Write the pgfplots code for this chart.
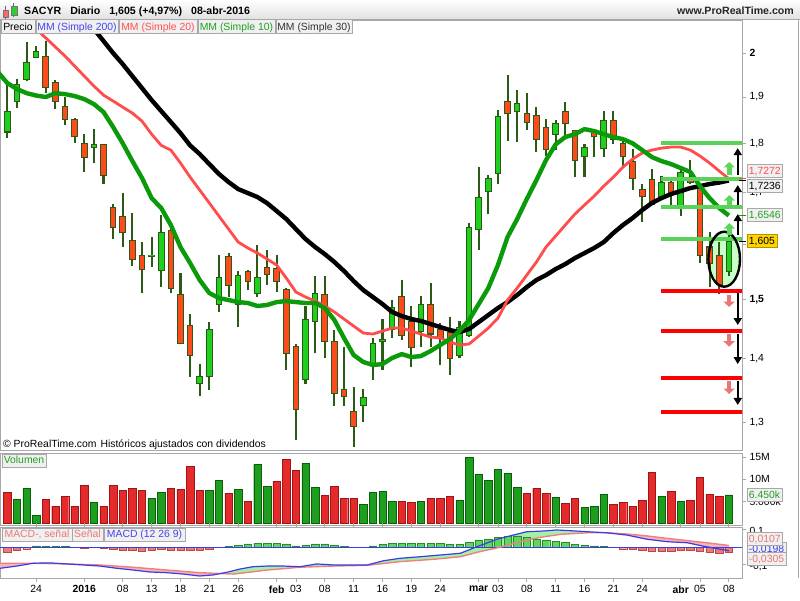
\documentclass[border=0pt]{standalone}
\usepackage{fontspec}
\setmainfont{Liberation Sans}
\usepackage{pgfplots}
\pgfplotsset{compat=1.18}
\usepackage{pgfplotstable}
\usetikzlibrary{arrows.meta}

\definecolor{frame}{HTML}{A8A8A8}
\definecolor{wick}{HTML}{2C5A16}
\definecolor{candleG}{HTML}{1CD01C}
\definecolor{candleR}{HTML}{FF4A1C}
\definecolor{maG}{HTML}{0A9A0A}
\definecolor{maR}{HTML}{FF4D4D}
\definecolor{lvlG}{HTML}{5AD25A}
\definecolor{lvlR}{HTML}{FF0000}
\definecolor{volG}{HTML}{1E9E1E}
\definecolor{volGd}{HTML}{0B5F0B}
\definecolor{volR}{HTML}{E42A2A}
\definecolor{volRd}{HTML}{9E1515}
\definecolor{hG}{HTML}{5CD85C}
\definecolor{hGd}{HTML}{2A8A2A}
\definecolor{hR}{HTML}{EC7C7C}
\definecolor{hRd}{HTML}{B84848}
\definecolor{macdB}{HTML}{3C3CE6}
\definecolor{sigP}{HTML}{F08080}
\definecolor{fillG}{HTML}{A6EFA6}
\definecolor{fillP}{HTML}{F6B4B4}
\definecolor{boxbg}{HTML}{F0F0F0}
\definecolor{txtG}{HTML}{20A020}
\definecolor{txtB}{HTML}{4444EE}
\definecolor{txtP}{HTML}{E87878}
\definecolor{txtR}{HTML}{FF5050}
\definecolor{arrG}{HTML}{5DD55D}
\definecolor{arrR}{HTML}{E87878}
\definecolor{yel}{HTML}{FFD400}

\newcommand\ff{\fontsize{10.4pt}{12pt}\selectfont}

\pgfplotsset{
  panel/.style={scale only axis, width=742pt, xmin=-0.76, xmax=76.37,
    axis line style={draw=frame, line width=0.8pt},
    tick style={draw=frame, line width=0.8pt},
    tick align=outside, major tick length=4pt,
    ytick pos=right, yticklabel pos=right,
    tick label style={font=\ff}},
}

\begin{document}

% green candles: i open high low close
\pgfplotstableread{
i o h l c
0 1.824 1.926 1.811 1.869
1 1.890 1.940 1.876 1.927
2 1.939 2.027 1.935 1.978
3 1.989 2.016 1.988 2.003
9 1.791 1.830 1.760 1.797
15 1.578 1.614 1.559 1.580
16 1.551 1.655 1.523 1.622
20 1.360 1.391 1.341 1.371
21 1.371 1.462 1.350 1.449
22 1.491 1.580 1.479 1.539
24 1.491 1.551 1.453 1.542
26 1.510 1.599 1.505 1.539
31 1.367 1.489 1.360 1.466
32 1.462 1.541 1.409 1.510
37 1.325 1.351 1.301 1.338
38 1.390 1.434 1.366 1.425
39 1.428 1.467 1.382 1.432
40 1.449 1.500 1.434 1.486
43 1.445 1.506 1.420 1.492
47 1.406 1.463 1.401 1.452
48 1.439 1.641 1.436 1.632
49 1.628 1.752 1.589 1.690
50 1.701 1.735 1.657 1.728
51 1.738 1.872 1.717 1.858
53 1.869 1.916 1.804 1.885
57 1.819 1.850 1.786 1.843
60 1.772 1.799 1.730 1.792
62 1.790 1.869 1.772 1.848
68 1.691 1.733 1.691 1.719
70 1.673 1.748 1.654 1.739
75 1.550 1.621 1.542 1.605
}\upc

% red candles
\pgfplotstableread{
i o h l c
4 1.993 2.028 1.910 1.921
5 1.933 1.938 1.874 1.890
6 1.880 1.901 1.839 1.851
7 1.850 1.855 1.801 1.814
8 1.799 1.819 1.741 1.771
10 1.797 1.799 1.716 1.733
11 1.670 1.677 1.609 1.632
12 1.652 1.698 1.595 1.622
13 1.607 1.659 1.560 1.571
14 1.580 1.605 1.511 1.553
17 1.626 1.630 1.511 1.520
18 1.509 1.547 1.424 1.425
19 1.455 1.475 1.371 1.406
23 1.577 1.583 1.504 1.525
25 1.550 1.553 1.517 1.532
27 1.557 1.589 1.526 1.544
28 1.556 1.580 1.514 1.532
29 1.517 1.520 1.382 1.409
30 1.420 1.425 1.274 1.320
33 1.509 1.541 1.401 1.428
34 1.429 1.448 1.325 1.345
35 1.351 1.419 1.325 1.340
36 1.316 1.355 1.263 1.294
41 1.505 1.535 1.431 1.439
42 1.462 1.488 1.386 1.419
44 1.491 1.530 1.420 1.441
45 1.449 1.459 1.390 1.435
46 1.443 1.469 1.374 1.401
52 1.891 1.949 1.806 1.863
54 1.864 1.910 1.828 1.845
55 1.860 1.878 1.783 1.809
56 1.834 1.851 1.774 1.788
58 1.869 1.890 1.818 1.843
59 1.827 1.828 1.731 1.764
61 1.822 1.830 1.771 1.814
63 1.848 1.869 1.799 1.809
64 1.799 1.807 1.752 1.772
65 1.762 1.788 1.705 1.728
66 1.706 1.717 1.643 1.692
67 1.726 1.748 1.677 1.677
69 1.719 1.725 1.675 1.696
71 1.724 1.765 1.716 1.719
72 1.708 1.710 1.566 1.580
73 1.595 1.624 1.522 1.565
74 1.580 1.605 1.510 1.526
}\dnc

% moving averages 10, 20, 30
\pgfplotstableread{
i m10 m20 m30
-1 1.9570 2.150 2.34
0 1.9313 2.1251 2.31
1 1.9178 2.1029 2.28
2 1.9088 2.0785 2.25
3 1.9033 2.0568 2.22
4 1.9000 2.0354 2.19
5 1.9088 2.0141 2.165
6 1.9066 1.9930 2.137
7 1.9022 1.9699 2.1103
8 1.8955 1.9471 2.0834
9 1.8845 1.9245 2.0568
10 1.8670 1.9044 2.0282
11 1.8346 1.8911 2.0000
12 1.8000 1.8779 1.9745
13 1.7633 1.8648 1.9471
14 1.7286 1.8474 1.9200
15 1.6887 1.8196 1.8933
16 1.6691 1.7958 1.8691
17 1.6364 1.7860 1.8453
18 1.5949 1.7592 1.8217
19 1.5653 1.7306 1.7958
20 1.5346 1.7045 1.7777
21 1.5115 1.6789 1.7571
22 1.5027 1.6536 1.7367
23 1.4992 1.6287 1.7205
24 1.4957 1.6042 1.7065
25 1.4940 1.5930 1.6986
26 1.4888 1.5837 1.6906
27 1.4905 1.5727 1.6788
28 1.4957 1.5617 1.6633
29 1.4975 1.5382 1.6478
30 1.4957 1.5133 1.6287
31 1.4940 1.5045 1.6098
32 1.4940 1.4975 1.5949
33 1.4853 1.4888 1.5819
34 1.4646 1.4784 1.5672
35 1.4342 1.4663 1.5508
36 1.4060 1.4544 1.5328
37 1.3946 1.4426 1.5168
38 1.3897 1.4409 1.5045
39 1.3913 1.4459 1.4922
40 1.4011 1.4510 1.4784
41 1.4076 1.4510 1.4715
42 1.4027 1.4459 1.4663
43 1.4044 1.4409 1.4629
44 1.4126 1.4358 1.4578
45 1.4225 1.4342 1.4527
46 1.4325 1.4275 1.4476
47 1.4459 1.4225 1.4442
48 1.4646 1.4242 1.4493
49 1.4922 1.4375 1.4612
50 1.5204 1.4510 1.4732
51 1.5617 1.4680 1.4853
52 1.6136 1.4992 1.4957
53 1.6478 1.5204 1.5080
54 1.6867 1.5436 1.5221
55 1.7245 1.5672 1.5346
56 1.7653 1.5949 1.5436
57 1.7979 1.6155 1.5544
58 1.8133 1.6364 1.5635
59 1.8196 1.6575 1.5745
60 1.8303 1.6750 1.5837
61 1.8260 1.6926 1.5930
62 1.8196 1.7125 1.6042
63 1.8133 1.7306 1.6211
64 1.8090 1.7510 1.6364
65 1.8000 1.7674 1.6498
66 1.7860 1.7798 1.6652
67 1.7715 1.7860 1.6789
68 1.7633 1.7902 1.6887
69 1.7571 1.7923 1.6966
70 1.7489 1.7923 1.7025
71 1.7407 1.7860 1.7085
72 1.7125 1.7736 1.7125
73 1.6887 1.7592 1.7165
74 1.6691 1.7428 1.7195
75 1.6546 1.7272 1.7236
}\mas

% support / resistance levels (start index, price)
\pgfplotstableread{
x p
67.95 1.8000
67.95 1.7259
67.95 1.6704
67.95 1.6098
}\levG
\pgfplotstableread{
x p
67.95 1.5156
67.95 1.4464
67.95 1.3693
67.95 1.3161
}\levR

% arrows: x, from, to
\pgfplotstableread{
x a b
75.93 1.7346 1.7902
75.93 1.6750 1.7145
75.93 1.6173 1.6575
75.93 1.5115 1.4561
75.93 1.4409 1.3913
75.93 1.3640 1.3264
}\arrK
\pgfplotstableread{
x a b
75.05 1.7346 1.7612
75.05 1.6750 1.6946
75.05 1.6173 1.6401
}\arrUp
\pgfplotstableread{
x a b
75.03 1.5080 1.4870
75.03 1.4409 1.4197
75.03 1.3640 1.3435
}\arrDn

% volume in millions
\pgfplotstableread{
i up dn
0 nan 7.05
1 5.45 nan
2 7.95 nan
3 1.82 nan
4 nan 5.45
5 nan 3.86
6 nan 6.14
7 nan 3.86
8 nan 8.64
9 4.77 nan
10 nan 3.86
11 nan 8.64
12 nan 7.50
13 nan 7.95
14 nan 7.50
15 5.68 nan
16 7.05 nan
17 nan 7.95
18 nan 7.73
19 nan 12.95
20 nan 7.50
21 7.50 nan
22 9.77 nan
23 nan 6.82
24 7.73 nan
25 nan 5.00
26 13.40 nan
27 8.41 nan
28 nan 9.55
29 nan 14.55
30 nan 12.05
31 13.64 nan
32 8.18 nan
33 nan 6.36
34 nan 8.41
35 nan 5.68
36 nan 5.68
37 4.32 nan
38 7.05 nan
39 7.27 nan
40 5.00 nan
41 nan 5.00
42 nan 4.77
43 5.00 nan
44 nan 5.68
45 nan 5.68
46 nan 6.14
47 5.23 nan
48 15.00 nan
49 11.14 nan
50 9.77 nan
51 12.27 nan
52 11.36 nan
53 8.18 nan
54 nan 6.82
55 nan 7.95
56 nan 6.82
57 5.91 nan
58 nan 4.55
59 nan 5.68
60 3.64 nan
61 3.86 nan
62 6.59 nan
63 nan 4.32
64 nan 4.77
65 nan 3.86
66 nan 5.23
67 nan 11.59
68 6.14 nan
69 nan 7.27
70 5.00 nan
71 nan 5.23
72 nan 10.45
73 nan 6.59
74 nan 6.14
75 6.45 nan
}\vol

% MACD histogram
\pgfplotstableread{
i up dn
0 nan -0.030
1 nan -0.015
2 nan -0.008
3 0.008 nan
4 0.007 nan
5 0.007 nan
6 0.005 nan
8 nan -0.005
10 nan -0.004
11 nan -0.011
12 nan -0.015
13 nan -0.019
14 nan -0.023
15 nan -0.015
16 nan -0.011
17 nan -0.015
18 nan -0.019
19 nan -0.019
20 nan -0.019
21 nan -0.011
22 nan -0.002
23 0.004 nan
24 0.013 nan
25 0.019 nan
26 0.023 nan
27 0.023 nan
28 0.023 nan
29 0.019 nan
30 0.008 nan
31 0.011 nan
32 0.019 nan
33 0.019 nan
34 0.011 nan
35 0.006 nan
38 0.008 nan
39 0.017 nan
40 0.023 nan
41 0.023 nan
42 0.023 nan
43 0.023 nan
44 0.023 nan
45 0.023 nan
46 0.017 nan
47 0.017 nan
48 0.030 nan
49 0.042 nan
50 0.048 nan
51 0.057 nan
52 0.063 nan
53 0.065 nan
54 0.057 nan
55 0.046 nan
56 0.042 nan
57 0.034 nan
58 0.029 nan
59 0.017 nan
60 0.011 nan
61 0.008 nan
62 0.006 nan
64 nan -0.008
65 nan -0.011
66 nan -0.019
67 nan -0.023
68 nan -0.023
69 nan -0.021
70 nan -0.019
71 nan -0.019
72 nan -0.023
73 nan -0.030
74 nan -0.034
75 nan -0.0305
}\hist

\pgfplotstableread{
i v
-0.76 -0.120
1.0 -0.107
2.7 -0.091
4.4 -0.089
6.2 -0.095
7.9 -0.101
9.6 -0.107
11.4 -0.120
13.1 -0.130
14.8 -0.141
16.6 -0.145
18.3 -0.153
20.0 -0.164
21.4 -0.158
22.8 -0.143
24.2 -0.124
25.5 -0.111
27.0 -0.107
28.7 -0.107
30.4 -0.111
32.2 -0.095
33.9 -0.101
35.6 -0.101
37.4 -0.101
39.1 -0.077
40.8 -0.063
42.9 -0.054
45.0 -0.044
47.1 -0.034
48.8 0.003
50.9 0.046
52.6 0.070
54.0 0.089
55.7 0.093
57.1 0.099
58.5 0.095
60.3 0.089
62.3 0.083
64.4 0.070
66.5 0.046
68.6 0.032
70.7 0.026
72.3 0.007
73.8 -0.008
75.0 -0.0198
}\macd

\pgfplotstableread{
i v
-0.76 -0.091
2.7 -0.091
4.4 -0.093
6.2 -0.095
9.6 -0.101
13.1 -0.114
16.6 -0.130
20.0 -0.145
23.5 -0.153
27.0 -0.130
30.4 -0.114
33.9 -0.107
37.4 -0.103
40.8 -0.082
44.2 -0.069
47.1 -0.054
49.1 -0.025
51.2 0.000
53.3 0.032
55.4 0.057
57.5 0.074
60.3 0.083
62.3 0.083
64.4 0.076
66.5 0.065
68.6 0.051
70.7 0.038
72.7 0.026
75.0 0.0107
}\sig

\begin{tikzpicture}[x=1pt, y=1pt]
\fill[white] (0,0) rectangle (800,600);
\useasboundingbox (0,0) rectangle (800,600);

% ---------------- price panel (log scale, plotted as ln) ----------------
\begin{axis}[panel, at={(0pt,150pt)}, anchor=south west, height=430pt,
  clip mode=individual,
  ymin=0.22991, ymax=0.73166, xtick=\empty,
  ytick={0.262364,0.336472,0.405465,0.470004,0.530628,0.587787,0.641854,0.693147},
  yticklabels={{1,3},{1,4},{\bfseries 1,5},{1,6},{1,7},{1,8},{1,9},{\bfseries 2}}]

\fill[green!35!white, fill opacity=0.6] (axis cs:74.52,0.452539) ellipse [x radius=15.8pt, y radius=27.5pt];

% wicks
\addplot[draw=wick, line width=2.1pt, quiver={u=0, v={ln(\thisrow{h})-ln(\thisrow{l})}}]
  table[x=i, y expr={ln(\thisrow{l})}] {\upc};
\addplot[draw=wick, line width=2.1pt, quiver={u=0, v={ln(\thisrow{h})-ln(\thisrow{l})}}]
  table[x=i, y expr={ln(\thisrow{l})}] {\dnc};
% bodies: outline then fill
\addplot[draw=wick, line width=6.6pt, quiver={u=0, v={ln(\thisrow{c})-ln(\thisrow{o})+0.0012}}]
  table[x=i, y expr={ln(\thisrow{o})-0.0006}] {\upc};
\addplot[draw=candleG, line width=4.6pt, quiver={u=0, v={max(ln(\thisrow{c})-ln(\thisrow{o})-0.0012,0.0003)}}]
  table[x=i, y expr={ln(\thisrow{o})+0.0006}] {\upc};
\addplot[draw=wick, line width=6.6pt, quiver={u=0, v={ln(\thisrow{o})-ln(\thisrow{c})+0.0012}}]
  table[x=i, y expr={ln(\thisrow{c})-0.0006}] {\dnc};
\addplot[draw=candleR, line width=4.6pt, quiver={u=0, v={max(ln(\thisrow{o})-ln(\thisrow{c})-0.0012,0.0003)}}]
  table[x=i, y expr={ln(\thisrow{c})+0.0006}] {\dnc};

% moving averages
\addplot[black, line width=4.4pt, line join=round] table[x=i, y expr={ln(\thisrow{m30})}] {\mas};
\addplot[maR, line width=2.8pt, line join=round] table[x=i, y expr={ln(\thisrow{m20})}] {\mas};
\addplot[maG, line width=4.4pt, line join=round] table[x=i, y expr={ln(\thisrow{m10})}] {\mas};

% levels
\addplot[lvlG, line width=4pt, quiver={u=9, v=0}] table[x=x, y expr={ln(\thisrow{p})}] {\levG};
\addplot[lvlR, line width=4pt, quiver={u=9, v=0}] table[x=x, y expr={ln(\thisrow{p})}] {\levR};

\draw[black, line width=2.4pt] (axis cs:74.52,0.452539) ellipse [x radius=15.8pt, y radius=27.5pt];

% arrows
\addplot[arrG, line width=4.5pt, -{Triangle[length=5.5pt,width=11pt]},
  quiver={u=0, v={ln(\thisrow{b})-ln(\thisrow{a})}}]
  table[x=x, y expr={ln(\thisrow{a})}] {\arrUp};
\addplot[arrR, line width=4.5pt, -{Triangle[length=5.5pt,width=11pt]},
  quiver={u=0, v={ln(\thisrow{b})-ln(\thisrow{a})}}]
  table[x=x, y expr={ln(\thisrow{a})}] {\arrDn};
\addplot[black, line width=1.8pt, -{Triangle[length=7pt,width=8pt]},
  quiver={u=0, v={ln(\thisrow{b})-ln(\thisrow{a})}}]
  table[x=x, y expr={ln(\thisrow{a})}] {\arrK};
\end{axis}

% ---------------- volume panel ----------------
\begin{axis}[panel, at={(0pt,75pt)}, anchor=south west, height=72pt,
  ymin=-0.386, ymax=15.98, xtick=\empty,
  ytick={5,10,15}, yticklabels={5.000k,10M,15M}]
\addplot[ybar, bar width=7.4pt, bar shift=0pt, fill=volR, draw=volRd] table[x=i, y=dn] {\vol};
\addplot[ybar, bar width=7.4pt, bar shift=0pt, fill=volG, draw=volGd] table[x=i, y=up] {\vol};
\end{axis}

% ---------------- MACD panel ----------------
\begin{axis}[panel, at={(0pt,22pt)}, anchor=south west, height=51pt,
  ymin=-0.1754, ymax=0.116,
  ytick={-0.1,0.1}, yticklabels={{-0,1},{0,1}},
  yticklabel style={yshift=-2pt},
  xtick={3,8,12,15,18,21,24,28,30,33,36,39,42,45,49,51,54,57,60,63,66,70,72,75},
  xticklabels={24,\textbf{2016},08,13,18,21,26,\textbf{feb},03,08,11,16,19,24,\textbf{mar},03,08,11,16,21,24,\textbf{abr},05,08}]
% areas between MACD and signal (MACD line forward, signal line back)
\addplot[fill=fillP, draw=none] coordinates {(-0.76,-0.120) (1.0,-0.107) (2.7,-0.091) (-0.76,-0.091)} -- cycle;
\addplot[fill=fillG, draw=none] coordinates {(2.7,-0.091) (4.4,-0.089) (6.2,-0.095) (4.4,-0.093)} -- cycle;
\addplot[fill=fillP, draw=none] coordinates {(6.2,-0.095) (7.9,-0.101) (9.6,-0.107) (11.4,-0.120) (13.1,-0.130)
  (14.8,-0.141) (16.6,-0.145) (18.3,-0.153) (20.0,-0.164) (21.4,-0.158) (22.1,-0.150)
  (20.0,-0.145) (16.6,-0.130) (13.1,-0.114) (9.6,-0.101)} -- cycle;
\addplot[fill=fillG, draw=none] coordinates {(22.1,-0.150) (22.8,-0.143) (24.2,-0.124) (25.5,-0.111) (27.0,-0.107)
  (28.7,-0.107) (30.4,-0.111) (32.2,-0.095) (33.9,-0.101) (35.6,-0.101) (37.4,-0.101) (39.1,-0.077)
  (40.8,-0.063) (42.9,-0.054) (45.0,-0.044) (47.1,-0.034) (48.8,0.003) (50.9,0.046) (52.6,0.070)
  (54.0,0.089) (55.7,0.093) (57.1,0.099) (58.5,0.095) (60.3,0.089) (62.3,0.083)
  (60.3,0.083) (57.5,0.074) (55.4,0.057) (53.3,0.032) (51.2,0.000) (49.1,-0.025) (47.1,-0.054)
  (44.2,-0.069) (40.8,-0.082) (37.4,-0.103) (33.9,-0.107) (30.4,-0.114) (27.0,-0.130) (23.5,-0.153)} -- cycle;
\addplot[fill=fillP, draw=none] coordinates {(62.3,0.083) (64.4,0.070) (66.5,0.046) (68.6,0.032) (70.7,0.026)
  (72.3,0.007) (73.8,-0.008) (75.0,-0.0198) (75.0,0.0107) (72.7,0.026) (70.7,0.038) (68.6,0.051)
  (66.5,0.065) (64.4,0.076)} -- cycle;
\addplot[ybar, bar width=7.4pt, bar shift=0pt, fill=hR, draw=hRd] table[x=i, y=dn] {\hist};
\addplot[ybar, bar width=7.4pt, bar shift=0pt, fill=hG, draw=hGd] table[x=i, y=up] {\hist};
\addplot[macdB, line width=0.9pt] coordinates {(-1,0) (77,0)};
\addplot[sigP, line width=1.4pt] table[x=i, y=v] {\sig};
\addplot[macdB, line width=1.2pt] table[x=i, y=v] {\macd};
\end{axis}

% ---------------- frame and header ----------------
\shade[top color=white, bottom color=black!12] (0,580.5) rectangle (800,600);
\draw[frame, line width=0.8pt] (0,580.5) -- (800,580.5);
\draw[frame, line width=0.8pt] (798.5,22) -- (798.5,580.5);
% icon
\draw[black!60, line width=0.9pt] (5.8,581) -- (5.8,594);
\draw[black!55, fill=red!60!white] (3.3,582.7) rectangle (8.3,590);
\draw[black!60, line width=0.9pt] (13.7,582.7) -- (13.7,597.3);
\draw[black!55, fill=green!75!black!80!white] (10.7,585) rectangle (16.7,594);
\node[anchor=base west, inner sep=0pt, font=\fontsize{10.6pt}{12pt}\selectfont\bfseries] at (24,585.6)
  {SACYR\hspace{9pt}Diario\hspace{9pt}1,605 (+4,97\%)\hspace{9pt}08-abr-2016};
\node[anchor=base east, inner sep=0pt, font=\fontsize{10.6pt}{12pt}\selectfont\bfseries, text=black!85] at (794,585.6)
  {www.ProRealTime.com};

% legend row
\tikzset{lbox/.style={draw=frame, fill=boxbg, line width=0.6pt}}
\draw[lbox] (1,567) rectangle (35,580.5);
\draw[lbox] (36,567) rectangle (118,580.5);
\draw[lbox] (119,567) rectangle (197,580.5);
\draw[lbox] (198,567) rectangle (275,580.5);
\draw[lbox] (276,567) rectangle (352,580.5);
\begin{scope}[every node/.style={anchor=base, inner sep=0pt, font=\ff}]
\node at (18,569.6) {Precio};
\node[text=txtB] at (77,569.6) {MM (Simple 200)};
\node[text=txtR] at (158,569.6) {MM (Simple 20)};
\node[text=txtG] at (236.5,569.6) {MM (Simple 10)};
\node[text=black!80] at (314,569.6) {MM (Simple 30)};
\node[anchor=base west] at (3,153) {© ProRealTime.com\hspace{4pt}Históricos ajustados con dividendos};
\end{scope}

\draw[lbox] (2,133) rectangle (46,146);
\node[anchor=base, inner sep=0pt, font=\ff, text=txtG] at (24,136.2) {Volumen};
\draw[lbox] (2,59) rectangle (72,72);
\draw[lbox] (72,59) rectangle (103,72);
\draw[lbox] (104,59) rectangle (185,72);
\begin{scope}[every node/.style={anchor=base, inner sep=0pt, font=\ff}]
\node[text=txtP] at (37,62.3) {MACD-, señal};
\node[text=txtP] at (87.5,62.3) {Señal};
\node[text=txtB] at (144.5,62.3) {MACD (12 26 9)};
\end{scope}

% value boxes on the right scale
\tikzset{vbox/.style={draw=frame, fill=boxbg, line width=0.7pt, anchor=west, font=\ff,
  inner xsep=2pt, inner ysep=0pt, minimum height=13pt, text height=7.4pt, text depth=0pt}}
\draw[maR, line width=1pt] (739,421.3) -- (746,421.3);
\draw[black, line width=1pt] (739,419.5) -- (746,419.5);
\draw[maG, line width=1pt] (739,384.5) -- (746,384.5);
\draw[black, line width=1pt] (739,358.4) -- (746,358.4);
\node[vbox, text=maR] at (746.5,429.2) {1,7272};
\node[vbox, text=black] at (746.5,414) {1,7236};
\node[vbox, text=txtG] at (746.5,385.3) {1,6546};
\node[vbox, text=black, fill=yel, draw=yel!70!black] at (746.5,358.8) {1,605};
\node[vbox, text=txtG] at (746.5,105) {6.450k};
\node[vbox, text=macdB] at (746.5,51) {-0,0198};
\node[vbox, text=txtP] at (746.5,61) {0,0107};
\node[vbox, text=txtP] at (746.5,41.2) {-0,0305};
\end{tikzpicture}
\end{document}
